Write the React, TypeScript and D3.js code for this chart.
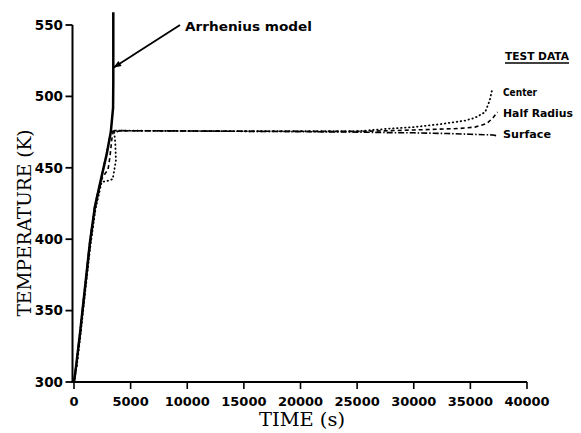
import React from "react";
import * as d3 from "d3";

const W = 581;
const H = 433;

const xTicks = [0, 5000, 10000, 15000, 20000, 25000, 30000, 35000, 40000];
const yTicks = [300, 350, 400, 450, 500, 550];

// [time s, temperature K]
const arrhenius: [number, number][] = [
  [0, 300], [200, 312], [530, 334], [970, 366], [1410, 398], [1850, 423],
  [2440, 444], [2900, 460], [3250, 475], [3450, 492], [3470, 510], [3470, 559],
];
const surface: [number, number][] = [
  [0, 300], [220, 314], [530, 335], [970, 367], [1410, 399], [1850, 424],
  [2440, 444], [2900, 461], [3250, 475], [3600, 476], [4200, 476], [10000, 475.8],
  [20000, 475.3], [25000, 475], [28000, 474.6], [30000, 474.5], [33000, 474],
  [35000, 473.5], [37000, 473], [37300, 472.5],
];
const halfRadius: [number, number][] = [
  [0, 300], [250, 313], [560, 334], [1000, 366], [1440, 397], [1880, 422],
  [2440, 442], [2750, 446], [3000, 448.5], [3180, 458], [3330, 469.5], [3450, 475],
  [4200, 476], [15000, 475.6], [25000, 475.5], [28000, 476], [30000, 476.5],
  [32000, 477], [34000, 477.5], [35400, 478.5], [36450, 481], [37000, 485], [37400, 489],
];
const center: [number, number][] = [
  [0, 300], [260, 312], [580, 333], [1020, 365], [1460, 396], [1900, 421],
  [2440, 440], [3000, 441], [3415, 442], [3700, 455], [3650, 467], [3550, 475],
  [4200, 476], [15000, 475.6], [25000, 475.6], [28000, 477.5], [30000, 478.5],
  [32300, 480.5], [34500, 483], [35400, 485], [36300, 489], [36700, 497], [36900, 504],
];

const arrowTarget: [number, number] = [3470, 520];

export default function App() {
  const x = d3.scaleLinear().domain([0, 40000]).range([74, 527]);
  const y = d3.scaleLinear().domain([300, 550]).range([382, 25]);
  const line = d3
    .line<[number, number]>()
    .x((d) => x(d[0]))
    .y((d) => y(d[1]));

  const axisX = 72.5;
  const axisY = 382;
  const tickFont = "'DejaVu Sans', sans-serif";
  const annFont = "'DejaVu Sans', sans-serif";
  const titleFont = "'DejaVu Serif', serif";

  const ax = x(arrowTarget[0]);
  const ay = y(arrowTarget[1]);
  const sx = 180;
  const sy = 25;
  const ang = Math.atan2(ay - sy, ax - sx);
  const hl = 8;
  const hw = 3;
  const head = [
    [ax, ay],
    [ax - hl * Math.cos(ang) + hw * Math.sin(ang), ay - hl * Math.sin(ang) - hw * Math.cos(ang)],
    [ax - hl * Math.cos(ang) - hw * Math.sin(ang), ay - hl * Math.sin(ang) + hw * Math.cos(ang)],
  ]
    .map((p) => p.join(","))
    .join(" ");

  return (
    <svg
      width={W}
      height={H}
      style={{ position: "absolute", left: 0, top: 0, background: "#fff" }}
    >
      <rect width={W} height={H} fill="#fff" />
      {/* axes */}
      <line x1={axisX} x2={axisX} y1={y(550)} y2={axisY + 1} stroke="#000" strokeWidth={2} />
      <line x1={axisX - 1} x2={x(40000)} y1={axisY} y2={axisY} stroke="#000" strokeWidth={1.8} />
      {yTicks.map((t) => (
        <g key={"y" + t}>
          <line x1={axisX - 7} x2={axisX} y1={y(t)} y2={y(t)} stroke="#000" strokeWidth={1.8} />
          <text
            x={63}
            y={y(t)}
            dy="0.36em"
            textAnchor="end"
            fontFamily={tickFont}
            fontWeight="bold"
            fontSize={13.5}
          >
            {t}
          </text>
        </g>
      ))}
      {xTicks.map((t) => (
        <g key={"x" + t}>
          <line x1={x(t)} x2={x(t)} y1={axisY} y2={axisY + 7} stroke="#000" strokeWidth={1.6} />
          <text
            x={x(t)}
            y={406}
            textAnchor="middle"
            fontFamily={tickFont}
            fontWeight="bold"
            fontSize={13}
          >
            {t}
          </text>
        </g>
      ))}
      {/* axis titles */}
      <text
        x={302}
        y={426}
        textAnchor="middle"
        fontFamily={titleFont}
        fontSize={18}
        textLength={86}
        lengthAdjust="spacingAndGlyphs"
      >
        TIME (s)
      </text>
      <text
        transform="translate(31,223) rotate(-90)"
        textAnchor="middle"
        fontFamily={titleFont}
        fontSize={18}
        textLength={187}
        lengthAdjust="spacingAndGlyphs"
      >
        TEMPERATURE (K)
      </text>
      {/* curves */}
      <path d={line(surface) || ""} fill="none" stroke="#000" strokeWidth={1.6} strokeDasharray="6,2,1.5,2" />
      <path d={line(halfRadius) || ""} fill="none" stroke="#000" strokeWidth={1.6} strokeDasharray="4,3" />
      <path
        d={line(center) || ""}
        fill="none"
        stroke="#000"
        strokeWidth={1.8}
        strokeDasharray="0.5,3.5"
        strokeLinecap="round"
      />
      <path d={line(arrhenius) || ""} fill="none" stroke="#000" strokeWidth={2.5} />
      {/* annotation */}
      <line x1={sx} y1={sy} x2={ax} y2={ay} stroke="#000" strokeWidth={1.8} />
      <polygon points={head} fill="#000" />
      <text x={185} y={31} fontFamily={annFont} fontWeight="bold" fontSize={11.5} textLength={127} lengthAdjust="spacingAndGlyphs">
        Arrhenius model
      </text>
      <text x={505} y={60} fontFamily={annFont} fontWeight="bold" fontSize={10} textLength={64} lengthAdjust="spacingAndGlyphs">
        TEST DATA
      </text>
      <line x1={505} x2={569} y1={63} y2={63} stroke="#000" strokeWidth={1.5} />
      <text x={503} y={96} fontFamily={annFont} fontWeight="bold" fontSize={10.5} textLength={34} lengthAdjust="spacingAndGlyphs">
        Center
      </text>
      <text x={503} y={117} fontFamily={annFont} fontWeight="bold" fontSize={10.5} textLength={70} lengthAdjust="spacingAndGlyphs">
        Half Radius
      </text>
      <text x={503} y={138} fontFamily={annFont} fontWeight="bold" fontSize={10.5} textLength={48} lengthAdjust="spacingAndGlyphs">
        Surface
      </text>
    </svg>
  );
}
